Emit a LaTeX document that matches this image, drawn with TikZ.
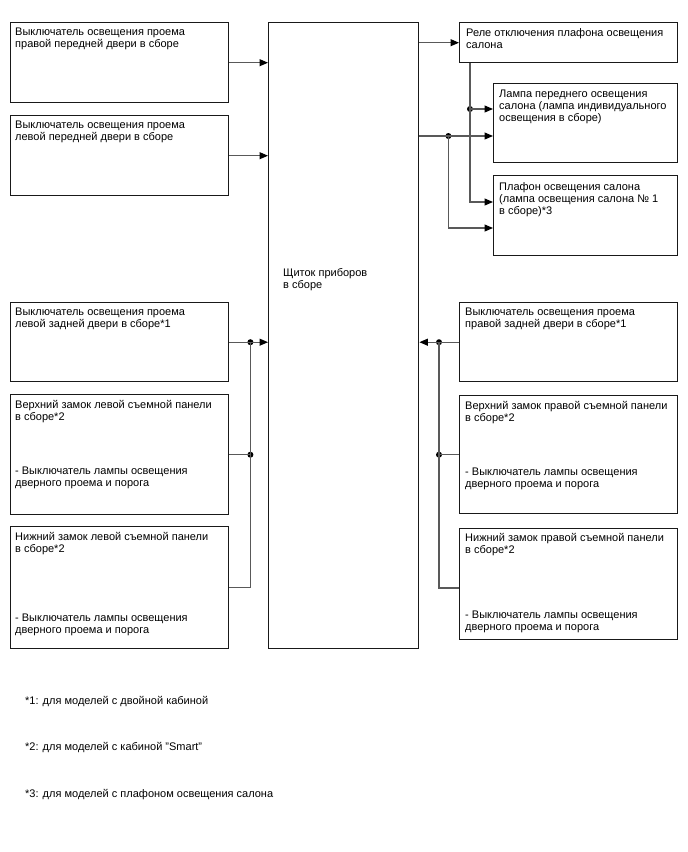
\documentclass[tikz,border=0pt]{standalone}
\usepackage{fontspec}
\setmainfont{Liberation Sans}
\usetikzlibrary{arrows.meta,calc}
\newcommand{\dfont}{\fontsize{11}{12}\selectfont}
\begin{document}
\begin{tikzpicture}[x=1pt,y=-1pt,
  box/.style={draw=black!90, line width=1.4pt, inner sep=0pt, anchor=north west},
  txt/.style={anchor=north west, inner sep=0pt, align=left, font=\dfont, execute at begin node=\strut},
  conn/.style={draw=black!65, line width=1.1pt},
  arr/.style={conn, -{Triangle[length=8.5pt,width=7pt,color=black]}},
  dot/.style={circle, fill=black, inner sep=0pt, minimum size=6pt},
  note/.style={anchor=base west, inner sep=0pt, font=\dfont}]
\path[use as bounding box] (0,0) rectangle (688,852);

% boxes
\node[box, minimum width=218pt, minimum height=80pt] (L1) at (10,22) {};
\node[box, minimum width=218pt, minimum height=80pt] (L2) at (10,115) {};
\node[box, minimum width=218pt, minimum height=79pt] (L3) at (10,302) {};
\node[box, minimum width=218pt, minimum height=120pt] (L4) at (10,394) {};
\node[box, minimum width=218pt, minimum height=122pt] (L5) at (10,526) {};
\node[box, minimum width=150pt, minimum height=626pt] (C) at (268,22) {};
\node[box, minimum width=218pt, minimum height=40pt] (Rel) at (459,22) {};
\node[box, minimum width=184pt, minimum height=79pt] (Lamp) at (493,83) {};
\node[box, minimum width=184pt, minimum height=80pt] (Plaf) at (493,175) {};
\node[box, minimum width=218pt, minimum height=79pt] (R3) at (459,302) {};
\node[box, minimum width=218pt, minimum height=118pt] (R4) at (459,395) {};
\node[box, minimum width=218pt, minimum height=111pt] (R5) at (459,528) {};

% texts
\node[txt] (L1t) at ($(L1.north west)+(5,6)$) {Выключатель освещения проема\\правой передней двери в сборе};
\node[txt] (L2t) at ($(L2.north west)+(5,6)$) {Выключатель освещения проема\\левой передней двери в сборе};
\node[txt] (L3t) at ($(L3.north west)+(5,6)$) {Выключатель освещения проема\\левой задней двери в сборе*1};
\node[txt] (L4t) at ($(L4.north west)+(5,6.5)$) {Верхний замок левой съемной панели\\в сборе*2};
\node[txt] (L4u) at ($(L4.north west)+(5,72.5)$) {- Выключатель лампы освещения\\дверного проема и порога};
\node[txt] (L5t) at ($(L5.north west)+(5,6.5)$) {Нижний замок левой съемной панели\\в сборе*2};
\node[txt] (L5u) at ($(L5.north west)+(5,88)$) {- Выключатель лампы освещения\\дверного проема и порога};
\node[txt] (Ct) at (283,268.5) {Щиток приборов\\в сборе};
\node[txt] (Relt) at ($(Rel.north west)+(7,6)$) {Реле отключения плафона освещения\\салона};
\node[txt] (Lampt) at ($(Lamp.north west)+(6,7)$) {Лампа переднего освещения\\салона (лампа индивидуального\\освещения в сборе)};
\node[txt] (Plaft) at ($(Plaf.north west)+(6,7)$) {Плафон освещения салона\\(лампа освещения салона № 1\\в сборе)*3};
\node[txt] (R3t) at ($(R3.north west)+(6,6)$) {Выключатель освещения проема\\правой задней двери в сборе*1};
\node[txt] (R4t) at ($(R4.north west)+(6,6.5)$) {Верхний замок правой съемной панели\\в сборе*2};
\node[txt] (R4u) at ($(R4.north west)+(6,73)$) {- Выключатель лампы освещения\\дверного проема и порога};
\node[txt] (R5t) at ($(R5.north west)+(6,5.5)$) {Нижний замок правой съемной панели\\в сборе*2};
\node[txt] (R5u) at ($(R5.north west)+(6,82.5)$) {- Выключатель лампы освещения\\дверного проема и порога};

% footnotes
\node[note] (f1) at (25,704) {*1: для моделей с двойной кабиной};
\node[note] (f2) at (25,750.5) {*2: для моделей с кабиной "Smart"};
\node[note] (f3) at (25,797.5) {*3: для моделей с плафоном освещения салона};

% left connectors
\draw[arr] (L1.east) -- (L1.east -| C.west);
\draw[arr] (L2.east) -- (L2.east -| C.west);
\node[dot] (dL3) at ($(L3.east)+(21,0)$) {};
\node[dot] (dL4) at ($(L4.east)+(21,0)$) {};
\coordinate (cL5) at ($(L5.east)+(21,0)$);
\draw[conn] (L3.east) -- (dL3.center);
\draw[arr] (dL3.center) -- (dL3 -| C.west);
\draw[conn] (L4.east) -- (dL4.center);
\draw[conn] (dL3.center) -- (dL4.center) -- (cL5) -- (L5.east);

% right connectors
\coordinate (y588) at (0,588);
\node[dot] (dR3) at ($(R3.west)+(-20,0)$) {};
\node[dot] (dR4) at ($(R4.west)+(-20,0)$) {};
\coordinate (eR5) at (R5.west |- y588);
\coordinate (cR5) at (dR4 |- y588);
\draw[conn] (R3.west) -- (dR3.center);
\draw[arr] (dR3.center) -- (dR3 -| C.east);
\draw[conn] (R4.west) -- (dR4.center);
\draw[conn] (dR3.center) -- (dR4.center) -- (cR5) -- (eR5);

% top right connectors
\coordinate (y109) at (0,109);
\coordinate (y136) at (0,136);
\coordinate (y202) at (0,202);
\coordinate (y228) at (0,228);
\draw[arr] (Rel.west -| C.east) -- (Rel.west);
\coordinate (rb) at ($(Rel.south west)+(11,0)$);
\node[dot] (dRel) at (rb |- y109) {};
\coordinate (cRel) at (rb |- y202);
\draw[conn] (rb) -- (dRel.center);
\draw[arr] (dRel.center) -- (Lamp.west |- y109);
\draw[arr] (dRel.center) -- (cRel) -- (Plaf.west |- y202);
\coordinate (oC) at (C.east |- y136);
\node[dot] (dC) at ($(oC)+(29,0)$) {};
\coordinate (cC) at (dC |- y228);
\draw[conn] (oC) -- (dC.center);
\draw[arr] (dC.center) -- (Lamp.west |- y136);
\draw[arr] (dC.center) -- (cC) -- (Plaf.west |- y228);
\end{tikzpicture}
\end{document}
